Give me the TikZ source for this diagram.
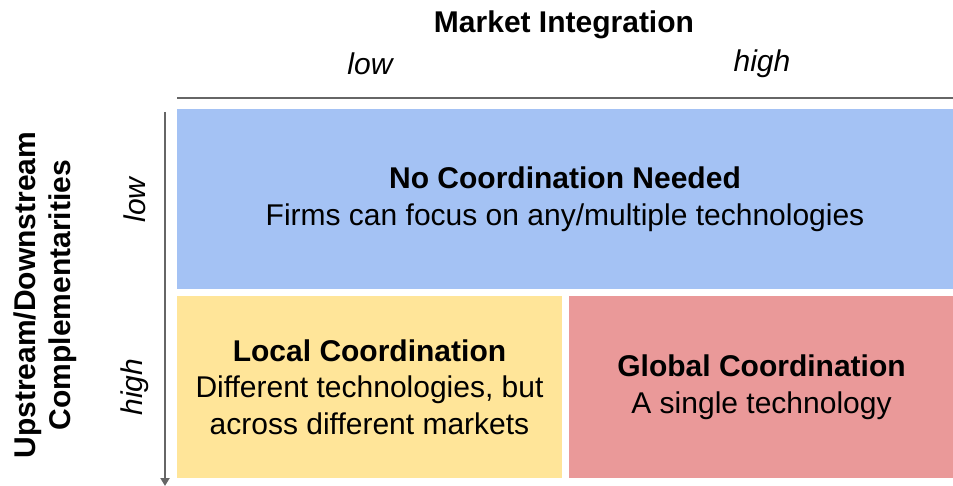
\documentclass[tikz,border=0pt]{standalone}
\usepackage{fontspec}
\setmainfont{Liberation Sans}
\usetikzlibrary{arrows.meta}
\definecolor{cellblue}{HTML}{A4C2F4}
\definecolor{cellyellow}{HTML}{FFE599}
\definecolor{cellred}{HTML}{EA9999}
\definecolor{axisgray}{HTML}{666666}
\tikzset{
  cell/.style={inner sep=0pt, outer sep=0pt, align=center, text=black,
    font=\fontsize{30}{36.5}\selectfont},
  axislabel/.style={font=\fontsize{30}{35.5}\selectfont\bfseries, align=center, inner sep=0pt},
  level/.style={font=\fontsize{30}{36}\selectfont\itshape, inner sep=0pt},
  axisline/.style={draw=axisgray, line width=2pt}
}
\begin{document}
\begin{tikzpicture}[x=1pt,y=-1pt]
\useasboundingbox (0,0) rectangle (953,486);
% cells
\node[cell, fill=cellblue, minimum width=776, minimum height=180] (nocoord) at (565,199)
  {{\bfseries No Coordination Needed}\\Firms can focus on any/multiple technologies};
\node[cell, fill=cellyellow, minimum width=385, minimum height=181] (local) at (369.5,387)
  {{\bfseries Local Coordination}\\Different technologies, but\\across different markets};
\node[cell, fill=cellred, minimum width=385, minimum height=181] (global) at (761.5,387)
  {{\bfseries Global Coordination}\\A single technology};
% axis titles
\node[axislabel] (mi) at (564,25) {Market Integration};
\node[level] (xlow) at (370,64) {low};
\node[level] (xhigh) at (762,64) {high};
\node[axislabel, rotate=90] (ud) at (45,295) {Upstream/Downstream\\Complementarities};
\node[level, rotate=90] (ylow) at (135,200) {low};
\node[level, rotate=90] (yhigh) at (135,387) {high};
% axes
\coordinate (hx0) at (177,98);
\coordinate (hx1) at (953,98);
\coordinate (vy0) at (165,112);
\coordinate (vy1) at (165,486);
\draw[axisline] (hx0) -- (hx1);
\draw[axisline, -{Triangle[width=9pt,length=8pt]}] (vy0) -- (vy1);
\end{tikzpicture}
\end{document}
